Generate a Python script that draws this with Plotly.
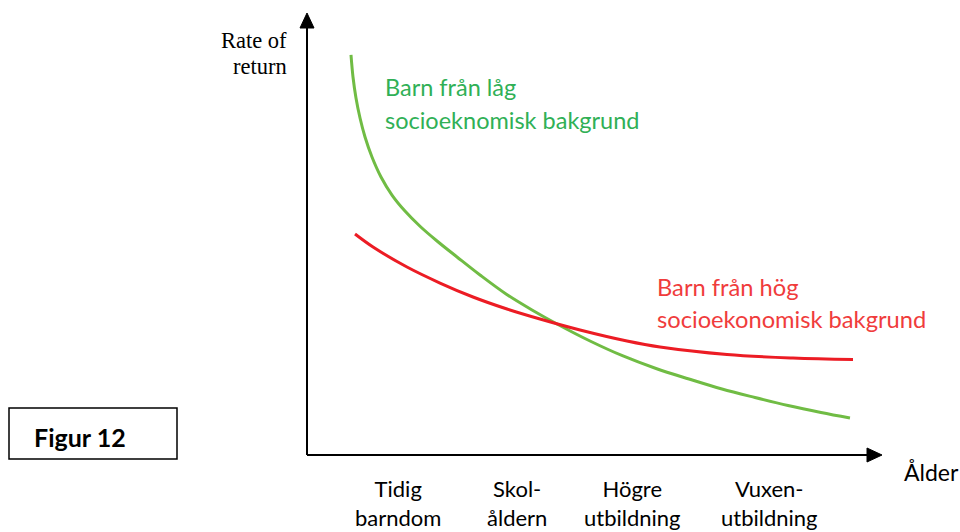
import plotly.graph_objects as go

# Age on the horizontal axis (0 = origin, 10 = arrow tip), rate of return on the vertical axis
low_age = [0.765, 0.800, 0.852, 0.922, 1.009, 1.130, 1.287, 1.478, 1.704, 1.965, 2.261, 2.609,
           3.009, 3.461, 3.913, 4.348, 4.922, 5.496, 6.070, 6.643, 7.217, 7.791, 8.365, 8.939, 9.443]
low_rate = [9.050, 8.552, 8.077, 7.624, 7.195, 6.742, 6.290, 5.882, 5.520, 5.176, 4.842, 4.480,
            4.072, 3.643, 3.281, 2.964, 2.579, 2.240, 1.957, 1.719, 1.493, 1.301, 1.120, 0.962, 0.837]

high_age = [0.835, 1.148, 1.739, 2.313, 2.887, 3.478, 4.052, 4.748, 5.565, 6.139, 7.304, 8.452, 9.496]
high_rate = [5.000, 4.706, 4.253, 3.891, 3.575, 3.303, 3.077, 2.828, 2.579, 2.443, 2.274, 2.195, 2.161]

stage_labels = ["Tidig<br>barndom", "Skol-<br>åldern", "Högre<br>utbildning", "Vuxen-<br>utbildning"]
stage_pos = [1.59, 3.65, 5.66, 8.04]

W, H = 960, 532
ORIGIN_PX = (307, 455)
X_PX = 57.5   # pixels per age unit
Y_PX = 44.2   # pixels per rate unit

x_range = [-ORIGIN_PX[0] / X_PX, (W - ORIGIN_PX[0]) / X_PX]
y_range = [-(H - ORIGIN_PX[1]) / Y_PX, ORIGIN_PX[1] / Y_PX]


def px(x, y):
    """Screen pixel -> paper coordinates."""
    return x / W, 1 - y / H


GREEN_LINE = "rgb(112,188,68)"
GREEN_TEXT = "rgb(48,176,86)"
RED_LINE = "rgb(236,28,36)"
RED_TEXT = "rgb(240,60,60)"

fig = go.Figure()
fig.add_trace(go.Scatter(x=low_age, y=low_rate, mode="lines",
                         line=dict(color=GREEN_LINE, width=3, shape="spline", smoothing=1.0),
                         hoverinfo="skip", showlegend=False))
fig.add_trace(go.Scatter(x=high_age, y=high_rate, mode="lines",
                         line=dict(color=RED_LINE, width=3, shape="spline", smoothing=1.0),
                         hoverinfo="skip", showlegend=False))

shapes = []
# axis lines
shapes.append(dict(type="line", xref="x", yref="y", x0=0, y0=0, x1=0, y1=9.7,
                   line=dict(color="black", width=2)))
shapes.append(dict(type="line", xref="x", yref="y", x0=0, y0=0, x1=9.75, y1=0,
                   line=dict(color="black", width=2)))


def tri(points):
    d = "M " + " L ".join(f"{a},{b}" for a, b in points) + " Z"
    return dict(type="path", xref="paper", yref="paper", path=d,
                fillcolor="black", line=dict(color="black", width=1))


def paper_pts(pts):
    return [px(a, b) for a, b in pts]


# arrowheads
shapes.append(tri(paper_pts([(307, 13), (300, 28), (314, 28)])))
shapes.append(tri(paper_pts([(882, 455), (867, 448), (867, 462)])))

# "Figur 12" frame
bx0, by0 = px(9, 408)
bx1, by1 = px(177, 459)
shapes.append(dict(type="rect", xref="paper", yref="paper", x0=bx0, y0=by1, x1=bx1, y1=by0,
                   line=dict(color="black", width=1.5), fillcolor="rgba(0,0,0,0)"))

ann = []


def text(x, y, s, size, color="black", family="Lato", xanchor="left", align="left"):
    xp, yp = px(x, y)
    ann.append(dict(x=xp, y=yp, xref="paper", yref="paper", text=s, showarrow=False,
                    xanchor=xanchor, yanchor="middle", align=align,
                    font=dict(size=size, color=color, family=family)))


text(289, 41, "Rate of", 22.5, family="Liberation Serif", xanchor="right", align="right")
text(289, 67, "return", 22.5, family="Liberation Serif", xanchor="right", align="right")
text(383, 87, "Barn från låg", 23.5, color=GREEN_TEXT)
text(383, 120, "socioeknomisk bakgrund", 23.5, color=GREEN_TEXT)
text(655, 287, "Barn från hög", 23.7, color=RED_TEXT)
text(655, 319, "socioekonomisk bakgrund", 23.7, color=RED_TEXT)
text(902, 472, "Ålder", 23)
text(32, 437, "<b>Figur 12</b>", 25)

for lab, pos in zip(stage_labels, stage_pos):
    ann.append(dict(x=pos, y=px(0, 503)[1], xref="x", yref="paper", text=lab, showarrow=False,
                    xanchor="center", yanchor="middle", align="center",
                    font=dict(size=22, color="black", family="Lato")))

fig.update_layout(
    width=W, height=H,
    margin=dict(l=0, r=0, t=0, b=0),
    paper_bgcolor="white", plot_bgcolor="white",
    xaxis=dict(range=x_range, visible=False, fixedrange=True),
    yaxis=dict(range=y_range, visible=False, fixedrange=True),
    shapes=shapes, annotations=ann,
)

fig.write_html("out.html")
